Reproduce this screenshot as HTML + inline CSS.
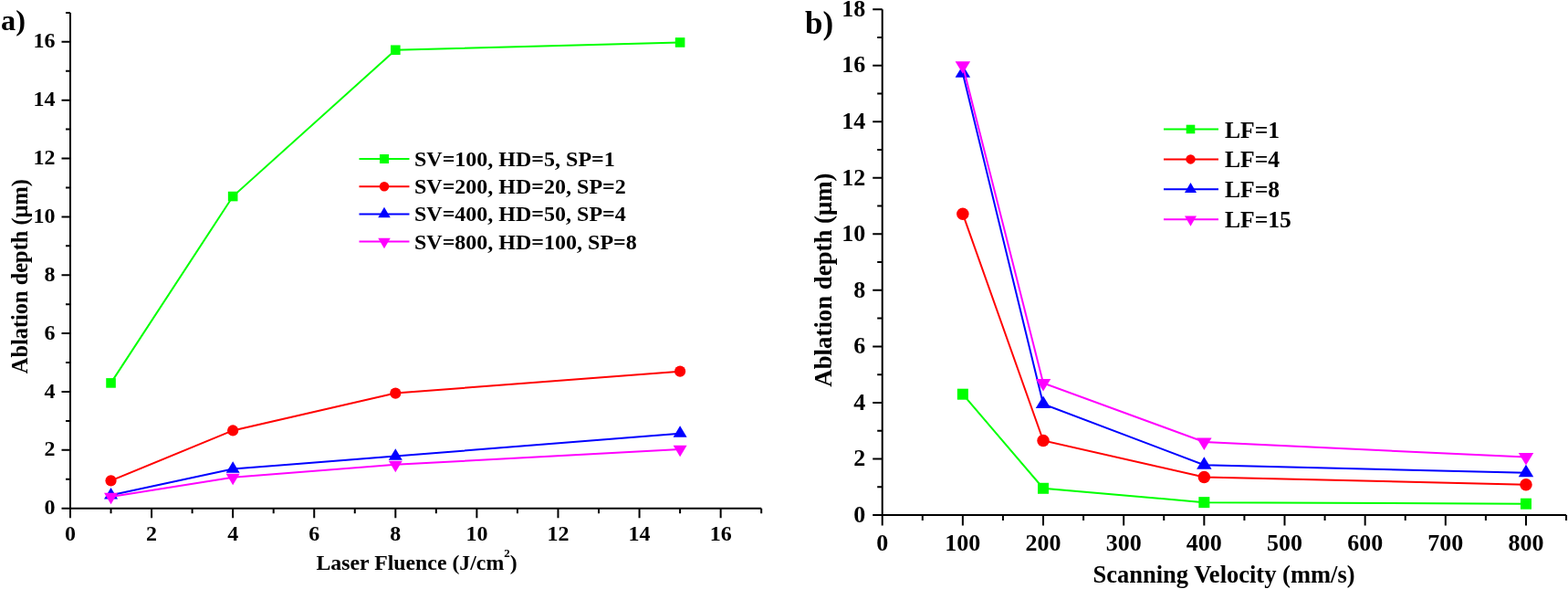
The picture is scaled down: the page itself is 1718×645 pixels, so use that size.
<!DOCTYPE html>
<html><head><meta charset="utf-8"><style>
html,body{margin:0;padding:0;background:#fff;}
body{width:1718px;height:645px;overflow:hidden;}
svg{display:block;}
text{font-family:"Liberation Serif", "Times New Roman", serif;font-weight:bold;fill:#000;}
.ta{font-size:24px;}
.la{font-size:24px;}
.tia{font-size:24px;}
.lab{font-size:32.4px;}
.tb{font-size:26px;}
.lb{font-size:25.6px;}
.tib{font-size:26.5px;}
.lbb{font-size:35px;}
</style></head><body>
<svg width="1718" height="645" viewBox="0 0 1718 645">
<path d="M77.00,13.89 V556.70 H834.18" fill="none" stroke="#000" stroke-width="2"/>
<path d="M67.50,556.70 H77.00 M77.00,556.70 V567.20 M72.00,524.77 H77.00 M121.54,556.70 V562.20 M67.50,492.84 H77.00 M166.08,556.70 V567.20 M72.00,460.91 H77.00 M210.62,556.70 V562.20 M67.50,428.98 H77.00 M255.16,556.70 V567.20 M72.00,397.05 H77.00 M299.70,556.70 V562.20 M67.50,365.12 H77.00 M344.24,556.70 V567.20 M72.00,333.19 H77.00 M388.78,556.70 V562.20 M67.50,301.26 H77.00 M433.32,556.70 V567.20 M72.00,269.33 H77.00 M477.86,556.70 V562.20 M67.50,237.40 H77.00 M522.40,556.70 V567.20 M72.00,205.47 H77.00 M566.94,556.70 V562.20 M67.50,173.54 H77.00 M611.48,556.70 V567.20 M72.00,141.61 H77.00 M656.02,556.70 V562.20 M67.50,109.68 H77.00 M700.56,556.70 V567.20 M72.00,77.75 H77.00 M745.10,556.70 V562.20 M67.50,45.82 H77.00 M789.64,556.70 V567.20 M72.00,13.89 H77.00 M834.18,556.70 V562.20" stroke="#000" stroke-width="2" fill="none"/>
<text x="60.40" y="563.30" text-anchor="end" class="ta">0</text>
<text x="77.00" y="592.30" text-anchor="middle" class="ta">0</text>
<text x="60.40" y="499.44" text-anchor="end" class="ta">2</text>
<text x="166.08" y="592.30" text-anchor="middle" class="ta">2</text>
<text x="60.40" y="435.58" text-anchor="end" class="ta">4</text>
<text x="255.16" y="592.30" text-anchor="middle" class="ta">4</text>
<text x="60.40" y="371.72" text-anchor="end" class="ta">6</text>
<text x="344.24" y="592.30" text-anchor="middle" class="ta">6</text>
<text x="60.40" y="307.86" text-anchor="end" class="ta">8</text>
<text x="433.32" y="592.30" text-anchor="middle" class="ta">8</text>
<text x="60.40" y="244.00" text-anchor="end" class="ta">10</text>
<text x="522.40" y="592.30" text-anchor="middle" class="ta">10</text>
<text x="60.40" y="180.14" text-anchor="end" class="ta">12</text>
<text x="611.48" y="592.30" text-anchor="middle" class="ta">12</text>
<text x="60.40" y="116.28" text-anchor="end" class="ta">14</text>
<text x="700.56" y="592.30" text-anchor="middle" class="ta">14</text>
<text x="60.40" y="52.42" text-anchor="end" class="ta">16</text>
<text x="789.64" y="592.30" text-anchor="middle" class="ta">16</text>
<polyline points="121.54,419.40 255.16,215.05 433.32,54.76 745.10,46.46" fill="none" stroke="#00ff00" stroke-width="2"/>
<rect x="116.24" y="414.10" width="10.6" height="10.6" fill="#00ff00"/>
<rect x="249.86" y="209.75" width="10.6" height="10.6" fill="#00ff00"/>
<rect x="428.02" y="49.46" width="10.6" height="10.6" fill="#00ff00"/>
<rect x="739.80" y="41.16" width="10.6" height="10.6" fill="#00ff00"/>
<polyline points="121.54,526.37 255.16,471.45 433.32,430.58 745.10,406.63" fill="none" stroke="#ff0000" stroke-width="2"/>
<circle cx="121.54" cy="526.37" r="6.10" fill="#ff0000"/>
<circle cx="255.16" cy="471.45" r="6.10" fill="#ff0000"/>
<circle cx="433.32" cy="430.58" r="6.10" fill="#ff0000"/>
<circle cx="745.10" cy="406.63" r="6.10" fill="#ff0000"/>
<polyline points="121.54,542.33 255.16,513.59 433.32,499.55 745.10,474.64" fill="none" stroke="#0000ff" stroke-width="2"/>
<polygon points="121.54,534.00 129.04,546.50 114.04,546.50" fill="#0000ff"/>
<polygon points="255.16,505.26 262.66,517.76 247.66,517.76" fill="#0000ff"/>
<polygon points="433.32,491.21 440.82,503.71 425.82,503.71" fill="#0000ff"/>
<polygon points="745.10,466.31 752.60,478.81 737.60,478.81" fill="#0000ff"/>
<polyline points="121.54,543.93 255.16,522.85 433.32,508.81 745.10,491.88" fill="none" stroke="#ff00ff" stroke-width="2"/>
<polygon points="121.54,552.26 129.04,539.76 114.04,539.76" fill="#ff00ff"/>
<polygon points="255.16,531.19 262.66,518.69 247.66,518.69" fill="#ff00ff"/>
<polygon points="433.32,517.14 440.82,504.64 425.82,504.64" fill="#ff00ff"/>
<polygon points="745.10,500.22 752.60,487.72 737.60,487.72" fill="#ff00ff"/>
<line x1="393.5" y1="174.00" x2="448.5" y2="174.00" stroke="#00ff00" stroke-width="2"/>
<rect x="416.00" y="169.00" width="10" height="10" fill="#00ff00"/>
<text x="454" y="182.00" class="la">SV=100, HD=5, SP=1</text>
<line x1="393.5" y1="204.20" x2="448.5" y2="204.20" stroke="#ff0000" stroke-width="2"/>
<circle cx="421.00" cy="204.20" r="5.30" fill="#ff0000"/>
<text x="454" y="212.20" class="la">SV=200, HD=20, SP=2</text>
<line x1="393.5" y1="234.40" x2="448.5" y2="234.40" stroke="#0000ff" stroke-width="2"/>
<polygon points="421.00,226.73 427.75,238.23 414.25,238.23" fill="#0000ff"/>
<text x="454" y="242.40" class="la">SV=400, HD=50, SP=4</text>
<line x1="393.5" y1="264.60" x2="448.5" y2="264.60" stroke="#ff00ff" stroke-width="2"/>
<polygon points="421.00,272.27 427.75,260.77 414.25,260.77" fill="#ff00ff"/>
<text x="454" y="272.60" class="la">SV=800, HD=100, SP=8</text>
<text x="0" y="0" transform="translate(30,302.7) rotate(-90)" text-anchor="middle" class="tia" style="font-size:24.4px">Ablation depth (μm)</text>
<text x="456.6" y="624" text-anchor="middle" class="tia" style="font-size:23.8px">Laser Fluence (J/cm<tspan dy="-14" font-size="13">2</tspan><tspan dy="14">)</tspan></text>
<text x="1" y="33" class="lab">a)</text>
<path d="M966.70,10.14 V564.00 H1716.06" fill="none" stroke="#000" stroke-width="2"/>
<path d="M956.20,564.00 H966.70 M961.20,533.23 H966.70 M956.20,502.46 H966.70 M961.20,471.69 H966.70 M956.20,440.92 H966.70 M961.20,410.15 H966.70 M956.20,379.38 H966.70 M961.20,348.61 H966.70 M956.20,317.84 H966.70 M961.20,287.07 H966.70 M956.20,256.30 H966.70 M961.20,225.53 H966.70 M956.20,194.76 H966.70 M961.20,163.99 H966.70 M956.20,133.22 H966.70 M961.20,102.45 H966.70 M956.20,71.68 H966.70 M961.20,40.91 H966.70 M956.20,10.14 H966.70 M966.70,564.00 V575.50 M1010.78,564.00 V570.00 M1054.86,564.00 V575.50 M1098.94,564.00 V570.00 M1143.02,564.00 V575.50 M1187.10,564.00 V570.00 M1231.18,564.00 V575.50 M1275.26,564.00 V570.00 M1319.34,564.00 V575.50 M1363.42,564.00 V570.00 M1407.50,564.00 V575.50 M1451.58,564.00 V570.00 M1495.66,564.00 V575.50 M1539.74,564.00 V570.00 M1583.82,564.00 V575.50 M1627.90,564.00 V570.00 M1671.98,564.00 V575.50 M1716.06,564.00 V570.00" stroke="#000" stroke-width="2" fill="none"/>
<text x="948.30" y="571.80" text-anchor="end" class="tb">0</text>
<text x="948.30" y="510.26" text-anchor="end" class="tb">2</text>
<text x="948.30" y="448.72" text-anchor="end" class="tb">4</text>
<text x="948.30" y="387.18" text-anchor="end" class="tb">6</text>
<text x="948.30" y="325.64" text-anchor="end" class="tb">8</text>
<text x="948.30" y="264.10" text-anchor="end" class="tb">10</text>
<text x="948.30" y="202.56" text-anchor="end" class="tb">12</text>
<text x="948.30" y="141.02" text-anchor="end" class="tb">14</text>
<text x="948.30" y="79.48" text-anchor="end" class="tb">16</text>
<text x="948.30" y="17.94" text-anchor="end" class="tb">18</text>
<text x="966.70" y="603.00" text-anchor="middle" class="tb">0</text>
<text x="1054.86" y="603.00" text-anchor="middle" class="tb">100</text>
<text x="1143.02" y="603.00" text-anchor="middle" class="tb">200</text>
<text x="1231.18" y="603.00" text-anchor="middle" class="tb">300</text>
<text x="1319.34" y="603.00" text-anchor="middle" class="tb">400</text>
<text x="1407.50" y="603.00" text-anchor="middle" class="tb">500</text>
<text x="1495.66" y="603.00" text-anchor="middle" class="tb">600</text>
<text x="1583.82" y="603.00" text-anchor="middle" class="tb">700</text>
<text x="1671.98" y="603.00" text-anchor="middle" class="tb">800</text>
<polyline points="1054.86,431.69 1143.02,534.77 1319.34,550.15 1671.98,551.69" fill="none" stroke="#00ff00" stroke-width="2"/>
<rect x="1048.86" y="425.69" width="12" height="12" fill="#00ff00"/>
<rect x="1137.02" y="528.77" width="12" height="12" fill="#00ff00"/>
<rect x="1313.34" y="544.15" width="12" height="12" fill="#00ff00"/>
<rect x="1665.98" y="545.69" width="12" height="12" fill="#00ff00"/>
<polyline points="1054.86,234.15 1143.02,482.46 1319.34,522.46 1671.98,530.77" fill="none" stroke="#ff0000" stroke-width="2"/>
<circle cx="1054.86" cy="234.15" r="6.75" fill="#ff0000"/>
<circle cx="1143.02" cy="482.46" r="6.75" fill="#ff0000"/>
<circle cx="1319.34" cy="522.46" r="6.75" fill="#ff0000"/>
<circle cx="1671.98" cy="530.77" r="6.75" fill="#ff0000"/>
<polyline points="1054.86,80.30 1143.02,442.46 1319.34,509.23 1671.98,517.85" fill="none" stroke="#0000ff" stroke-width="2"/>
<polygon points="1054.86,71.30 1063.11,84.80 1046.61,84.80" fill="#0000ff"/>
<polygon points="1143.02,433.46 1151.27,446.96 1134.77,446.96" fill="#0000ff"/>
<polygon points="1319.34,500.23 1327.59,513.73 1311.09,513.73" fill="#0000ff"/>
<polygon points="1671.98,508.85 1680.23,522.35 1663.73,522.35" fill="#0000ff"/>
<polyline points="1054.86,71.68 1143.02,419.38 1319.34,484.00 1671.98,500.61" fill="none" stroke="#ff00ff" stroke-width="2"/>
<polygon points="1054.86,80.68 1063.11,67.18 1046.61,67.18" fill="#ff00ff"/>
<polygon points="1143.02,428.38 1151.27,414.88 1134.77,414.88" fill="#ff00ff"/>
<polygon points="1319.34,493.00 1327.59,479.50 1311.09,479.50" fill="#ff00ff"/>
<polygon points="1671.98,509.61 1680.23,496.11 1663.73,496.11" fill="#ff00ff"/>
<line x1="1275" y1="141.50" x2="1335" y2="141.50" stroke="#00ff00" stroke-width="2"/>
<rect x="1299.70" y="136.70" width="9.6" height="9.6" fill="#00ff00"/>
<text x="1342" y="150.50" class="lb">LF=1</text>
<line x1="1275" y1="174.43" x2="1335" y2="174.43" stroke="#ff0000" stroke-width="2"/>
<circle cx="1304.50" cy="174.43" r="5.20" fill="#ff0000"/>
<text x="1342" y="183.43" class="lb">LF=4</text>
<line x1="1275" y1="207.36" x2="1335" y2="207.36" stroke="#0000ff" stroke-width="2"/>
<polygon points="1304.50,199.89 1311.00,211.09 1298.00,211.09" fill="#0000ff"/>
<text x="1342" y="216.36" class="lb">LF=8</text>
<line x1="1275" y1="240.29" x2="1335" y2="240.29" stroke="#ff00ff" stroke-width="2"/>
<polygon points="1304.50,247.76 1311.00,236.56 1298.00,236.56" fill="#ff00ff"/>
<text x="1342" y="249.29" class="lb">LF=15</text>
<text x="0" y="0" transform="translate(911.2,306.6) rotate(-90)" text-anchor="middle" class="tib" style="font-size:26.8px">Ablation depth (μm)</text>
<text x="1341" y="638" text-anchor="middle" class="tib">Scanning Velocity (mm/s)</text>
<text x="882" y="37" class="lbb">b)</text>
</svg>
</body></html>
